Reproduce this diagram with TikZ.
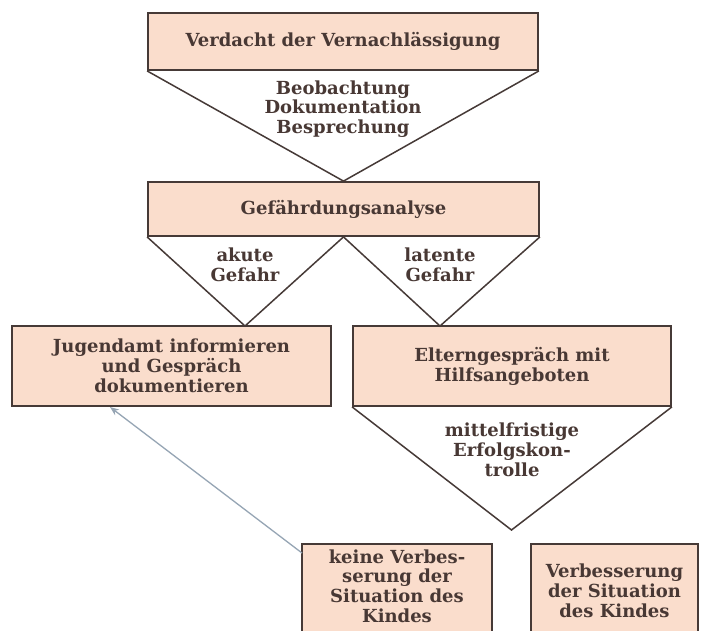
\documentclass[tikz,border=0pt]{standalone}
\usepackage{fontspec}
\setmainfont{DejaVu Serif}
\usetikzlibrary{arrows.meta}
\definecolor{boxfill}{RGB}{250,221,204}
\definecolor{ink}{RGB}{72,56,52}
\definecolor{edge}{RGB}{70,58,55}
\definecolor{arrowgray}{RGB}{150,165,180}
\tikzset{
  box/.style={draw=edge, line width=1.8pt, fill=boxfill, rectangle, align=center, inner sep=0pt},
  txt/.style={text=ink, font=\fontsize{18}{19.8}\selectfont\bfseries, align=center},
  tri/.style={draw=edge, line width=1.5pt, line join=miter},
}
\begin{document}
\begin{tikzpicture}[x=1pt,y=-1pt]
\clip (0,0) rectangle (707,630);
\fill[white] (0,0) rectangle (707,630);
% boxes
\node[box, minimum width=390pt, minimum height=57pt] (b1) at (343,41.5) {};
\node[box, minimum width=391pt, minimum height=54pt] (b2) at (343.5,209) {};
\node[box, minimum width=319pt, minimum height=80pt] (b3) at (171.5,366) {};
\node[box, minimum width=318pt, minimum height=80pt] (b4) at (512,366) {};
\node[box, minimum width=190pt, minimum height=94pt] (b5) at (397,591) {};
\node[box, minimum width=167pt, minimum height=94pt] (b6) at (614.5,591) {};
% box texts
\node[txt] (t1) at (b1) {Verdacht der Vernachlässigung};
\node[txt] (t2) at (b2) {Gefährdungsanalyse};
\node[txt] (t3) at (b3) {Jugendamt informieren\\und Gespräch\\dokumentieren};
\node[txt] (t4) at (b4) {Elterngespräch mit\\Hilfsangeboten};
\node[txt] (t5) at (397,586) {keine Verbes-\\serung der\\Situation des\\Kindes};
\node[txt] (t6) at (b6) {Verbesserung\\der Situation\\des Kindes};
% funnels
\coordinate (a3) at (245,326);
\coordinate (a4) at (440,326);
\coordinate (a5) at (511.5,530);
\draw[tri] (b1.south west) -- (b2.north) -- (b1.south east);
\draw[tri] (b2.south west) -- (a3) -- (b2.south);
\draw[tri] (b2.south) -- (a4) -- (b2.south east);
\draw[tri] (b4.south west) -- (a5) -- (b4.south east);
% funnel texts
\node[txt] (f1) at (343,109) {Beobachtung\\Dokumentation\\Besprechung};
\node[txt] (f2) at (245,265) {akute\\Gefahr};
\node[txt] (f3) at (440,265) {latente\\Gefahr};
\node[txt] (f4) at (512,450) {mittelfristige\\Erfolgskon-\\trolle};
% feedback arrow
\coordinate (tip) at (110,407);
\coordinate (start) at (302,553);
\draw[arrowgray, line width=1.3pt, -{Stealth[length=9pt,width=7pt]}] (start) -- (tip);
\end{tikzpicture}
\end{document}
